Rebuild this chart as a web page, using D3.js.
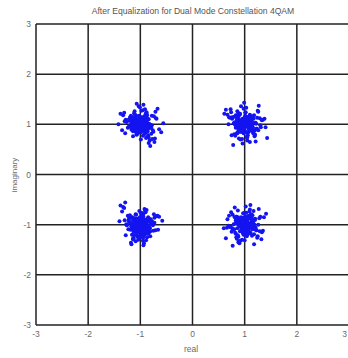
<!DOCTYPE html>
<html><head><meta charset="utf-8">
<script src="https://cdn.jsdelivr.net/npm/d3@7"></script>
<style>html,body{margin:0;padding:0;background:#fff;overflow:hidden}</style>
</head><body>
<script>
const title = "After Equalization for Dual Mode Constellation 4QAM";
const xLabel = "real";
const yLabel = "imaginary";
const ticks = [-3, -2, -1, 0, 1, 2, 3];

// cluster near (-1, 1)
const clusterA_real = [-0.97,-1.12,-0.92,-0.79,-1.05,-1.18,-0.89,-1.00,-1.27,-0.86,-0.94,-1.09,-0.83,-1.02,-0.75,-1.14,-0.91,-1.21,-0.96,-0.69,-1.07,-0.87,-1.33,-0.98,-1.11,-0.81,-1.04,-0.93,-1.16,-0.72,-0.99,-1.24,-0.90,-1.08,-0.85,-1.01,-0.64,-1.13,-0.95,-1.19,-0.78,-1.06,-0.88,-1.29,-0.97,-0.82,-1.10,-1.03,-0.76,-1.15,-0.92,-1.38,-0.84,-1.02,-0.89,-1.20,-0.94,-0.60,-1.12,-1.00,-0.87,-1.07,-1.26,-0.80,-0.98,-1.17,-0.91,-1.04,-0.73,-1.09,-0.86,-1.31,-0.95,-0.99,-1.14,-0.83,-1.23,-0.93,-0.67,-1.06,-1.11,-0.90,-1.01,-0.77,-1.18,-0.96,-1.35,-0.88,-1.08,-0.81,-1.00,-1.22,-0.92,-1.05,-0.71,-1.13,-0.97,-0.85,-1.28,-0.94,-1.03,-0.79,-1.16,-0.89,-0.56,-1.10,-0.98,-1.20,-0.82,-1.07,-0.91,-1.42,-0.86,-0.99,-1.15,-0.74,-1.04,-0.93,-1.25,-0.88,-0.95,-1.09,-0.70,-1.17,-1.00,-0.84,-1.12,-0.96,-1.30,-0.78,-1.02,-0.90,-1.06,-0.63,-1.19,-0.92];
const clusterA_imag = [0.94,1.14,1.02,0.81,1.09,0.97,1.22,0.89,1.05,0.75,1.13,1.00,0.92,1.17,0.85,1.07,1.30,0.96,0.87,1.11,0.79,1.03,1.18,0.91,1.26,0.99,0.83,1.06,1.12,0.72,1.04,0.93,1.20,0.86,1.01,1.34,0.90,1.08,0.77,1.15,0.98,0.95,1.24,0.82,1.10,0.68,1.03,1.16,0.88,1.07,0.99,1.21,0.74,1.09,0.94,1.13,1.39,0.84,1.02,0.91,1.18,0.80,1.05,0.97,1.27,0.89,1.11,1.00,0.65,1.06,0.86,1.23,0.93,1.14,0.76,1.01,1.08,0.96,1.31,0.81,1.12,0.92,1.03,0.71,1.17,0.99,0.88,1.20,1.06,0.57,1.10,0.95,1.15,0.84,1.25,0.98,1.04,0.78,1.09,0.90,1.36,0.93,1.13,0.73,1.02,1.19,0.87,1.07,0.97,1.41,0.82,1.00,1.11,0.70,1.05,1.16,0.91,0.79,1.08,0.99,1.28,0.85,1.12,0.94,1.03,0.63,1.22,0.89,1.06,1.17,0.96];
const clusterA_core_real = [-1.03,-0.95,-1.08,-0.91,-1.00,-1.12,-0.97,-0.88,-1.05,-1.14,-0.93,-1.01,-0.86,-1.09,-0.98,-1.16,-0.94,-1.04,-0.90,-1.07,-0.99,-1.11,-0.85,-1.02,-0.96,-1.13,-0.92,-1.06,-0.89,-1.00,-1.10,-0.95,-1.03,-0.87,-1.15,-0.98,-1.05,-0.93,-1.08,-0.91,-1.01,-1.17,-0.96,-0.84,-1.04,-0.99,-1.12,-0.94,-1.06,-0.90,-1.02,-0.97,-1.09,-0.88,-1.14,-1.00,-0.92,-1.07,-0.95,-1.03,-0.86,-1.11,-0.98,-1.05,-0.93,-1.18,-0.89,-1.01,-0.96,-1.08];
const clusterA_core_imag = [1.04,0.93,1.10,0.97,1.14,0.89,1.01,1.07,0.95,0.86,1.12,1.03,0.91,1.16,0.99,1.05,0.88,1.09,0.94,1.02,0.84,1.13,0.98,1.06,0.92,1.11,0.87,1.00,1.15,0.96,1.08,0.90,1.03,0.85,1.12,0.97,1.05,0.93,1.17,1.01,0.89,1.07,0.95,1.10,0.99,0.86,1.04,1.14,0.92,1.00,1.09,0.88,1.06,0.96,1.13,0.91,1.02,0.83,1.08,0.98,1.11,0.94,1.05,0.87,1.15,1.00,0.93,1.07,0.90,1.03];

// cluster near (1, 1)
const clusterB_real = [1.09,0.96,1.16,0.87,1.02,1.23,0.92,0.80,1.06,1.12,0.99,0.73,1.19,1.04,0.89,1.29,0.94,1.10,0.83,1.01,1.35,0.86,1.07,0.97,1.21,0.76,1.13,1.00,0.91,1.17,0.69,1.05,1.26,0.93,0.85,1.11,1.03,0.81,1.08,1.38,0.98,0.88,1.14,0.95,1.24,0.78,1.06,0.90,1.18,1.01,0.64,1.12,0.96,1.20,0.84,1.09,1.31,0.92,0.99,1.15,0.74,1.04,1.11,0.87,1.07,1.27,0.97,0.82,1.02,1.22,0.89,0.94,1.43,1.10,0.79,1.16,0.91,1.05,0.70,1.13,1.00,0.85,1.25,0.98,1.08,0.76,1.19,0.93,1.03,0.88,1.33,1.06,0.83,1.11,0.96,0.72,1.14,1.01,0.92,1.21,0.80,1.09,0.99,1.40,0.86,1.05,1.17,0.90,0.67,1.12,1.02,0.95,1.26,0.81,1.07,0.89,1.15,0.98,1.30,0.75,1.04,0.93,1.10,0.84,1.23,1.00,0.61,1.13,0.97];
const clusterB_imag = [0.98,1.11,0.83,1.06,1.24,0.91,1.01,1.15,0.78,0.95,1.08,1.30,0.87,1.03,0.72,1.12,0.99,1.19,0.93,0.85,1.09,1.26,0.96,1.02,0.66,1.14,0.90,1.05,1.21,0.81,1.00,1.07,0.88,1.36,0.94,1.16,0.75,1.04,0.97,1.11,0.82,1.22,1.01,0.92,1.13,0.59,1.06,0.86,1.18,0.98,1.29,0.89,1.08,0.79,1.03,1.15,0.94,0.70,1.10,0.99,1.24,0.84,1.05,1.12,0.91,1.37,0.96,0.77,1.07,1.01,1.17,0.87,0.73,1.09,1.02,0.93,1.20,0.68,1.14,0.97,1.06,0.82,1.27,0.90,1.00,1.11,0.76,1.04,1.33,0.85,1.08,0.95,1.18,0.99,0.62,1.13,0.92,1.23,0.88,1.03,0.80,1.09,1.43,0.94,1.15,0.74,1.02,0.89,1.19,0.96,1.07,0.71,1.25,1.00,0.84,1.10,0.93,1.31,0.98,0.78,1.12,1.05,0.65,1.16,0.91,1.01,1.21,0.87,1.04];
const clusterB_core_real = [1.02,0.94,1.09,0.89,1.13,0.97,1.05,0.86,1.00,1.11,0.92,1.07,0.98,1.15,0.88,1.03,0.95,1.10,0.91,1.06,0.84,1.01,1.12,0.96,1.04,0.90,1.17,0.99,0.87,1.08,0.93,1.14,1.00,0.85,1.05,0.97,1.11,0.92,1.03,0.89,1.16,0.98,1.06,0.94,1.09,0.86,1.01,1.13,0.95,1.04,0.90,1.07,0.83,1.10,0.99,1.02,0.93,1.15,0.88,1.05,0.96,1.12,0.91,1.08,0.97,1.00,0.87,1.14,0.94,1.03];
const clusterB_core_imag = [0.96,1.08,0.90,1.03,1.13,0.87,1.00,1.10,0.94,1.05,0.85,1.15,0.98,1.02,0.91,1.07,0.88,1.12,0.95,1.04,0.99,1.17,0.92,0.86,1.06,1.01,1.11,0.89,0.97,1.14,0.93,1.03,0.84,1.09,1.00,0.96,1.12,0.90,1.05,0.87,1.16,0.98,1.02,0.94,1.08,0.82,1.01,1.13,0.95,1.06,0.91,1.10,0.97,0.88,1.04,1.15,0.93,1.00,0.86,1.07,0.99,1.11,0.92,1.03,0.89,1.14,0.96,1.05,0.85,1.09];

// cluster near (-1, -1)
const clusterC_real = [-1.07,-0.85,-0.98,-1.22,-0.90,-1.04,-0.73,-1.13,-0.95,-1.01,-0.81,-1.30,-0.92,-1.16,-0.88,-1.03,-0.67,-1.09,-0.99,-1.25,-0.83,-0.94,-1.11,-0.77,-1.06,-1.18,-0.91,-1.38,-0.86,-1.00,-1.08,-0.79,-1.14,-0.96,-0.71,-1.20,-0.89,-1.02,-1.12,-0.84,-1.27,-0.93,-0.97,-1.05,-0.64,-1.17,-0.87,-1.09,-0.99,-1.23,-0.80,-1.04,-0.92,-1.33,-0.90,-1.15,-0.75,-0.98,-1.07,-0.86,-1.01,-1.21,-0.82,-1.11,-0.94,-0.69,-1.26,-0.97,-1.03,-0.88,-1.16,-0.78,-1.00,-1.40,-0.91,-1.08,-0.83,-1.13,-0.95,-0.73,-1.19,-0.99,-1.06,-0.85,-1.02,-1.29,-0.89,-0.96,-1.10,-0.81,-1.24,-0.93,-0.58,-1.14,-1.01,-0.87,-1.05,-1.35,-0.92,-0.80,-1.12,-0.98,-1.18,-0.84,-1.03,-0.74,-1.09,-0.90,-1.22,-0.94,-1.00,-1.31,-0.86,-1.07,-0.66,-1.15,-0.97,-0.89,-1.20,-0.82,-1.04,-1.28,-0.91,-0.99,-1.11,-0.76,-1.17];
const clusterC_imag = [-0.88,-1.03,-1.18,-0.93,-0.75,-1.10,-0.96,-1.27,-0.84,-1.01,-1.13,-0.91,-0.69,-1.20,-0.98,-1.07,-0.82,-1.33,-0.89,-1.00,-1.15,-0.78,-1.05,-0.94,-1.24,-0.86,-1.09,-0.62,-1.02,-1.17,-0.90,-0.97,-1.28,-0.81,-1.11,-0.95,-1.06,-0.73,-1.21,-0.87,-0.99,-1.37,-0.92,-1.14,-0.84,-1.04,-1.25,-0.79,-0.98,-1.09,-0.89,-1.30,-0.94,-0.65,-1.16,-1.00,-1.12,-0.76,-1.03,-0.91,-1.22,-0.85,-1.07,-0.96,-1.41,-0.83,-1.01,-1.19,-0.88,-0.71,-1.08,-0.97,-1.26,-0.93,-1.13,-0.80,-1.05,-0.99,-1.32,-0.86,-1.10,-0.77,-0.94,-1.18,-1.02,-0.56,-1.15,-0.90,-1.06,-1.23,-0.82,-1.01,-0.92,-1.29,-0.87,-1.12,-0.97,-0.74,-1.20,-0.95,-1.04,-0.84,-1.36,-0.91,-1.08,-0.79,-1.14,-1.00,-0.89,-1.25,-0.93,-0.67,-1.17,-0.98,-1.10,-0.85,-1.03,-1.31,-0.81,-1.07,-0.94,-1.21,-0.72,-1.12,-0.96,-1.01,-1.39,-0.86];
const clusterC_core_real = [-0.97,-1.06,-0.91,-1.11,-1.00,-0.87,-1.04,-1.14,-0.94,-1.02,-0.89,-1.08,-0.99,-1.16,-0.93,-1.05,-0.85,-1.01,-1.10,-0.96,-1.13,-0.90,-1.03,-0.98,-1.07,-0.88,-1.15,-0.95,-1.00,-0.92,-1.09,-0.86,-1.04,-1.12,-0.97,-1.01,-0.83,-1.06,-0.94,-1.17,-0.99,-0.91,-1.08,-1.03,-0.89,-1.11,-0.96,-1.02,-0.93,-1.14,-0.87,-1.05,-1.00,-0.95,-1.10,-0.90,-1.07,-0.98,-1.13,-0.84,-1.01,-0.96,-1.09,-0.92,-1.04,-0.88,-1.15,-0.99,-1.06,-0.94];
const clusterC_core_imag = [-1.05,-0.93,-1.10,-0.98,-0.87,-1.13,-1.01,-0.91,-1.07,-0.95,-1.16,-1.03,-0.89,-1.09,-0.97,-1.12,-0.85,-1.04,-0.94,-1.00,-1.14,-0.90,-1.06,-0.96,-1.18,-0.92,-1.02,-0.86,-1.08,-0.99,-1.11,-0.88,-1.05,-0.95,-1.15,-1.01,-0.93,-1.07,-0.84,-1.03,-0.97,-1.12,-0.91,-1.09,-1.00,-0.87,-1.06,-0.94,-1.13,-0.98,-1.04,-0.90,-1.16,-1.02,-0.96,-1.10,-0.89,-1.05,-0.93,-1.01,-0.85,-1.08,-0.97,-1.14,-0.92,-1.03,-0.99,-1.11,-0.88,-1.06];

// cluster near (1, -1)
const clusterD_real = [0.89,1.06,1.20,0.97,0.76,1.13,1.01,0.84,1.09,1.32,0.93,0.99,1.17,0.71,1.04,1.11,0.81,0.95,1.26,0.88,1.08,1.00,0.66,1.15,0.92,1.03,1.22,0.86,1.07,0.74,1.18,0.98,0.90,1.37,1.05,0.79,1.12,0.96,0.83,1.24,1.01,0.69,1.10,0.94,1.14,0.87,1.28,0.99,0.77,1.08,1.19,0.91,1.03,0.60,1.16,0.85,1.06,1.30,0.97,0.89,1.11,0.80,1.02,1.25,0.93,0.73,1.13,1.00,0.86,1.35,0.95,1.09,0.82,1.04,1.21,0.88,0.67,1.15,0.98,1.07,0.78,1.27,0.91,1.01,0.84,1.12,0.94,1.41,0.75,1.05,1.18,0.90,0.99,0.70,1.14,1.03,0.87,1.23,0.96,1.08,0.81,1.10,0.64,1.16,0.93,1.02,1.29,0.85,1.06,0.77,1.19,0.97,0.89,1.12,0.72,1.00,1.33,0.83,1.09,0.95,1.20,0.92,1.04];
const clusterD_imag = [-0.95,-1.14,-0.90,-0.77,-1.07,-1.01,-1.20,-0.84,-0.97,-1.29,-0.88,-1.09,-0.73,-1.04,-0.92,-1.17,-0.66,-1.12,-1.00,-1.24,-0.86,-0.94,-1.06,-0.81,-1.32,-0.98,-1.11,-0.89,-1.03,-0.75,-1.19,-0.91,-1.37,-0.85,-1.08,-0.99,-0.79,-1.15,-0.96,-1.26,-0.83,-1.02,-0.70,-1.10,-0.93,-1.21,-0.87,-1.05,-1.42,-0.82,-1.00,-1.13,-0.76,-1.07,-0.90,-1.28,-0.97,-0.84,-1.18,-1.01,-0.61,-1.09,-0.88,-1.23,-0.94,-1.04,-0.80,-1.31,-0.86,-1.12,-0.98,-0.74,-1.16,-0.92,-1.06,-1.35,-0.89,-0.99,-1.20,-0.83,-1.10,-0.69,-1.03,-0.95,-1.25,-0.87,-1.08,-0.78,-1.14,-1.00,-1.39,-0.91,-1.02,-0.82,-1.22,-0.94,-0.72,-1.11,-0.97,-1.17,-0.85,-1.05,-1.27,-0.89,-1.01,-0.64,-1.13,-0.93,-1.19,-0.80,-1.08,-0.98,-1.33,-0.84,-1.04,-0.76,-1.15,-0.91,-1.06,-1.30,-0.88,-0.99,-1.23,-0.81];
const clusterD_core_real = [0.98,1.07,0.92,1.12,1.01,0.88,1.05,0.95,1.15,0.90,1.03,1.09,0.86,0.99,1.13,0.94,1.06,0.91,1.17,1.00,0.87,1.04,0.96,1.11,0.93,1.08,0.85,1.02,1.14,0.97,1.06,0.89,1.10,0.95,1.01,0.84,1.12,0.99,1.05,0.92,1.16,0.88,1.03,0.96,1.09,0.91,1.07,1.00,0.86,1.13,0.94,1.04,0.98,1.11,0.90,1.02,0.87,1.15,0.97,1.06,0.93,1.08,0.89,1.01,1.14,0.95,1.05,0.83,1.10,0.99];
const clusterD_core_imag = [-0.94,-1.06,-1.00,-0.89,-1.12,-0.97,-1.04,-0.86,-1.09,-0.95,-1.15,-1.01,-0.91,-1.07,-0.98,-1.13,-0.88,-1.03,-0.93,-1.10,-0.85,-1.05,-0.99,-1.16,-0.92,-1.02,-0.87,-1.08,-0.96,-1.14,-1.00,-0.90,-1.06,-0.94,-1.11,-0.84,-1.03,-0.97,-1.17,-0.91,-1.05,-0.99,-1.09,-0.88,-1.02,-0.95,-1.13,-0.86,-1.07,-1.00,-0.93,-1.10,-0.97,-1.04,-0.89,-1.15,-0.92,-1.01,-0.96,-1.08,-0.85,-1.12,-0.98,-1.03,-0.90,-1.06,-0.94,-1.18,-1.00,-0.87];

const W = 348, H = 358;
const svg = d3.select("body").append("svg").attr("width", W).attr("height", H)
  .style("font-family", "'Liberation Sans', Arial, sans-serif");

const x = d3.scaleLinear().domain([-3, 3]).range([36, 349]);
const y = d3.scaleLinear().domain([-3, 3]).range([325, 24]);

const gridColor = "#222";
svg.append("g").selectAll("line").data(ticks).join("line")
  .attr("x1", d => x(d)).attr("x2", d => x(d)).attr("y1", y(3)).attr("y2", y(-3))
  .attr("stroke", gridColor).attr("stroke-width", 1.5);
svg.append("g").selectAll("line").data(ticks).join("line")
  .attr("x1", x(-3)).attr("x2", x(3)).attr("y1", d => y(d)).attr("y2", d => y(d))
  .attr("stroke", gridColor).attr("stroke-width", 1.5);

const clusters = [
  [clusterA_real, clusterA_imag], [clusterA_core_real, clusterA_core_imag],
  [clusterB_real, clusterB_imag], [clusterB_core_real, clusterB_core_imag],
  [clusterC_real, clusterC_imag], [clusterC_core_real, clusterC_core_imag],
  [clusterD_real, clusterD_imag], [clusterD_core_real, clusterD_core_imag]
];
const pts = clusters.flatMap(([re, im]) => d3.zip(re, im));
svg.append("g").selectAll("circle").data(pts).join("circle")
  .attr("cx", d => x(d[0])).attr("cy", d => y(d[1])).attr("r", 2)
  .attr("fill", "#1414f0");

const labColor = "#6a6a6a";
svg.append("g").selectAll("text").data(ticks).join("text")
  .attr("x", 31).attr("y", d => y(d) + 3)
  .attr("text-anchor", "end").attr("font-size", 8.5).attr("fill", labColor)
  .text(d => d);
svg.append("g").selectAll("text").data(ticks).join("text")
  .attr("x", d => d === 3 ? 347 : x(d)).attr("y", 337)
  .attr("text-anchor", d => d === 3 ? "end" : "middle").attr("font-size", 8.5).attr("fill", labColor)
  .text(d => d);

svg.append("text").attr("x", 193).attr("y", 14).attr("text-anchor", "middle")
  .attr("font-size", 8.6).attr("fill", "#555").text(title);
svg.append("text").attr("x", 191).attr("y", 352).attr("text-anchor", "middle")
  .attr("font-size", 8.5).attr("fill", labColor).text(xLabel);
svg.append("text").attr("transform", "translate(17,175) rotate(-90)").attr("text-anchor", "middle")
  .attr("font-size", 8).attr("fill", labColor).text(yLabel);
</script>
</body></html>
